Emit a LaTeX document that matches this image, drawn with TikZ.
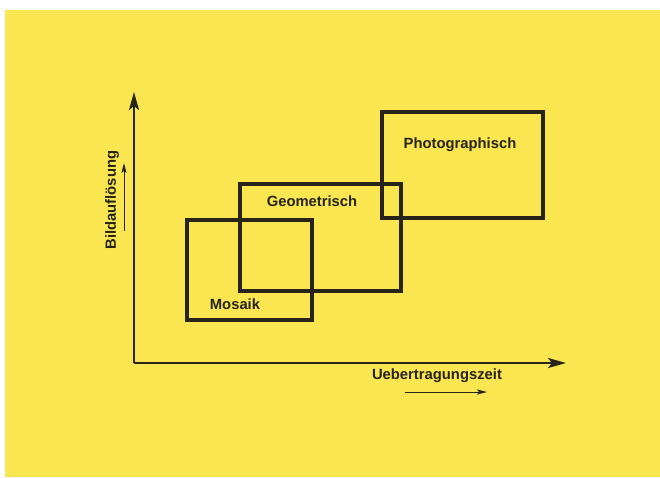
\documentclass[tikz,border=0pt]{standalone}
\usepackage{fontspec}
\setmainfont{Liberation Sans}
\usetikzlibrary{arrows.meta}
\definecolor{paper}{RGB}{250,230,80}
\definecolor{ink}{RGB}{40,36,25}
\tikzset{
  box/.style={draw=ink, line width=3.6pt},
  axis/.style={draw=ink, line width=2.4pt, -{Stealth[length=18pt,width=10pt,inset=4pt]}},
  small/.style={draw=ink, line width=1pt, -{Stealth[length=10pt,width=5pt,inset=2pt]}},
  lbl/.style={text=ink, font=\bfseries\fontsize{14.8pt}{16pt}\selectfont, inner sep=0pt}
}
\begin{document}
\begin{tikzpicture}[x=1pt,y=-1pt]
\useasboundingbox (0,0) rectangle (660,477);
\fill[white] (0,0) rectangle (660,477);
\fill[paper] (5,10) rectangle (660,477);
% boxes
\draw[box] (187,220) rectangle (312,320);
\draw[box] (240,184) rectangle (401,291);
\draw[box] (382,112) rectangle (543,218);
\node[lbl] (mos) at (235,304) {Mosaik};
\node[lbl] (geo) at (312,201) {Geometrisch};
\node[lbl] (pho) at (460,145) {Photographisch};
% axes
\coordinate (o) at (134,363);
\coordinate (yt) at (134,92);
\coordinate (xt) at (566,363);
\draw[axis] (o) -- (yt);
\draw[axis] (o) -- (xt);
\node[lbl, rotate=90] (ylab) at (112,200) {Bildauflösung};
\node[lbl] (xlab) at (437,376) {Uebertragungszeit};
\coordinate (ya) at (124,231);
\coordinate (yb) at (124,163);
\draw[small] (ya) -- (yb);
\coordinate (xa) at (405,392);
\coordinate (xb) at (487,392);
\draw[small] (xa) -- (xb);
\end{tikzpicture}
\end{document}
